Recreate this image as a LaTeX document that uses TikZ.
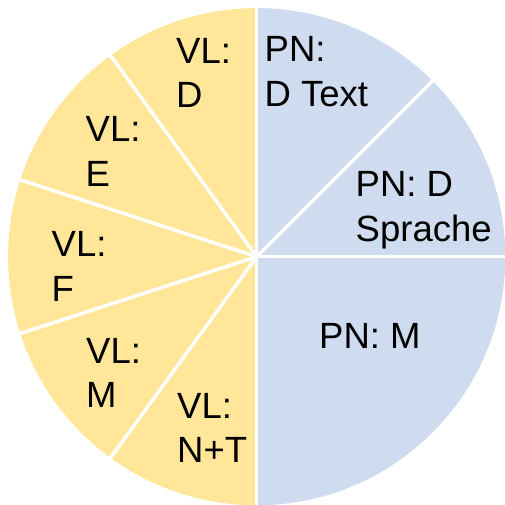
\documentclass[tikz,border=0pt]{standalone}
\usepackage{fontspec}
\setmainfont{Liberation Sans}
\usetikzlibrary{calc}
\definecolor{pieyellow}{HTML}{FFE699}
\definecolor{pieblue}{HTML}{CFDBEE}
\begin{document}
\begin{tikzpicture}[
  lbl/.style={anchor=north west, inner sep=0pt, align=left,
    font=\fontsize{36.5pt}{44.5pt}\selectfont, text=black},
  sep/.style={draw=white, line width=3.5pt}
]
\useasboundingbox (0pt,0pt) rectangle (504pt,505pt);
\coordinate (c) at (256.7pt,248.3pt);
\def\R{248.6pt}
% wedges
\fill[pieblue] (c) -- ++(90:\R) arc[start angle=90, end angle=45, radius=\R] -- cycle;
\fill[pieblue] (c) -- ++(45:\R) arc[start angle=45, end angle=0, radius=\R] -- cycle;
\fill[pieblue] (c) -- ++(0:\R) arc[start angle=0, end angle=-90, radius=\R] -- cycle;
\fill[pieyellow] (c) -- ++(90:\R) arc[start angle=90, end angle=126, radius=\R] -- cycle;
\fill[pieyellow] (c) -- ++(126:\R) arc[start angle=126, end angle=162, radius=\R] -- cycle;
\fill[pieyellow] (c) -- ++(162:\R) arc[start angle=162, end angle=198, radius=\R] -- cycle;
\fill[pieyellow] (c) -- ++(198:\R) arc[start angle=198, end angle=234, radius=\R] -- cycle;
\fill[pieyellow] (c) -- ++(234:\R) arc[start angle=234, end angle=270, radius=\R] -- cycle;
% boundary points
\foreach \a/\n in {90/b1,45/b2,0/b3,270/b4,126/b5,162/b6,198/b7,234/b8}
  \coordinate (\n) at ($(c)+(\a:250pt)$);
\foreach \n in {b1,b2,b3,b4,b5,b6,b7,b8}
  \draw[sep] (c) -- (\n);
% labels
\node[lbl] (t1) at (176pt,467pt) {VL:\\D};
\node[lbl] (t2) at (264.5pt,468.5pt) {PN:\\D Text};
\node[lbl] (t3) at (355.5pt,333.5pt) {PN: D\\Sprache};
\node[lbl] (t4) at (319pt,182pt) {PN: M};
\node[lbl] (t5) at (85.5pt,388.5pt) {VL:\\E};
\node[lbl] (t6) at (51.5pt,273.5pt) {VL:\\F};
\node[lbl] (t7) at (86pt,167pt) {VL:\\M};
\node[lbl] (t8) at (177pt,112pt) {VL:\\N+T};
\end{tikzpicture}
\end{document}
